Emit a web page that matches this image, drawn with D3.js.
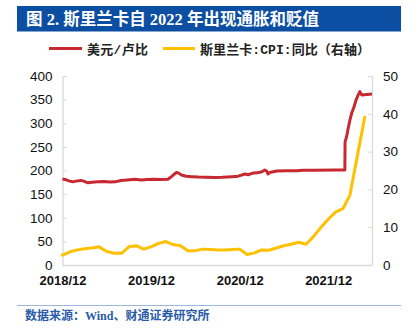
<!DOCTYPE html>
<html>
<head>
<meta charset="utf-8">
<script src="https://cdn.jsdelivr.net/npm/d3@7"></script>
<style>
  html, body { margin: 0; padding: 0; background: #fff; }
  svg { display: block; }
</style>
</head>
<body>
<svg id="chart" width="418" height="335"></svg>
<script>
// USD/LKR exchange rate (left axis)
const fxDates = ["2018-12-01","2018-12-12","2018-12-24","2019-01-05","2019-01-13","2019-01-25","2019-02-15","2019-03-01","2019-03-16","2019-04-01","2019-04-26","2019-05-20","2019-06-15","2019-07-06","2019-07-30","2019-08-25","2019-09-26","2019-10-21","2019-11-15","2019-12-10","2020-01-10","2020-02-09","2020-02-26","2020-03-10","2020-03-17","2020-03-25","2020-04-07","2020-04-25","2020-05-18","2020-06-15","2020-07-15","2020-08-21","2020-09-20","2020-10-30","2020-11-25","2020-12-23","2021-01-05","2021-01-21","2021-02-10","2021-03-03","2021-03-15","2021-03-22","2021-03-28","2021-04-05","2021-04-13","2021-05-04","2021-06-10","2021-07-25","2021-08-20","2021-10-01","2022-01-01","2022-02-08","2022-02-09","2022-02-15","2022-02-22","2022-03-01","2022-03-08","2022-03-18","2022-03-26","2022-04-04","2022-04-11","2022-04-18","2022-05-10","2022-05-31"];
const fxValues = [182,181,178.5,177,176,177.5,179,177,174,175,176,176.5,175.5,176,179,180,181.3,180,181,181.5,181,181.5,188,194,196,194,190,188,187,186,185.5,185,185.5,187,188,192.6,191,194,195,197.5,201,199,192.6,196,197,199,199.5,199.6,200.5,200.5,201,201,261,271,290,307,321,335,349,360,367,360,361,362];

// Sri Lanka CPI YoY, % (right axis)
const cpiMonths = ["2018-12","2019-01","2019-02","2019-03","2019-04","2019-05","2019-06","2019-07","2019-08","2019-09","2019-10","2019-11","2019-12","2020-01","2020-02","2020-03","2020-04","2020-05","2020-06","2020-07","2020-08","2020-09","2020-10","2020-11","2020-12","2021-01","2021-02","2021-03","2021-04","2021-05","2021-06","2021-07","2021-08","2021-09","2021-10","2021-11","2021-12","2022-01","2022-02","2022-03","2022-04","2022-05"];
const cpiValues = [2.6,3.5,4.0,4.3,4.5,4.8,3.6,3.1,3.1,4.8,5.1,4.2,4.8,5.7,6.2,5.4,5.1,3.8,3.8,4.2,4.1,4.0,4.0,4.1,4.2,2.8,3.2,4.0,3.9,4.5,5.1,5.5,6.0,5.5,7.5,9.9,12.1,14.0,15.0,18.5,29.0,39.1];

const xTicks = ["2018-12-01","2019-12-01","2020-12-01","2021-12-01"];
const xTickLabels = ["2018/12","2019/12","2020/12","2021/12"];
const leftTicks = [0,50,100,150,200,250,300,350,400];
const rightTicks = [0,10,20,30,40,50];

const titleText = "图 2. 斯里兰卡自 2022 年出现通胀和贬值";
const seriesNames = ["美元/卢比", "斯里兰卡:CPI:同比（右轴）"];
const sourceText = "数据来源：Wind、财通证券研究所";

const parseDay = d3.timeParse("%Y-%m-%d");
const parseMonth = d3.timeParse("%Y-%m");

const fx = fxDates.map((d, i) => ({ date: parseDay(d), value: fxValues[i] }));
const cpi = cpiMonths.map((d, i) => ({ date: parseMonth(d), value: cpiValues[i] }));

const svg = d3.select("#chart");
const plot = { left: 62.5, right: 372, top: 76, bottom: 265 };

const x = d3.scaleTime()
  .domain([parseDay("2018-12-01"), parseDay("2022-05-31")])
  .range([plot.left, plot.right]);
const yL = d3.scaleLinear().domain([0, 400]).range([plot.bottom, plot.top]);
const yR = d3.scaleLinear().domain([0, 50]).range([plot.bottom, plot.top]);

const red = "#c8282f";
const yellow = "#ffc000";
const axisGray = "#d9d9d9";

// Title bar
svg.append("rect")
  .attr("x", 17).attr("y", 6).attr("width", 384).attr("height", 25.5)
  .attr("fill", "#0b4ea2");
svg.append("text")
  .attr("x", 26).attr("y", 25)
  .attr("fill", "#fff")
  .attr("font-family", "'Liberation Serif', 'Noto Sans CJK SC', sans-serif")
  .attr("font-weight", "bold")
  .attr("font-size", 16.5)
  .text(titleText);

// Legend
const legend = svg.append("g")
  .attr("font-family", "'Liberation Mono', 'Noto Sans CJK SC', sans-serif")
  .attr("font-size", 13)
  .attr("font-weight", "bold")
  .attr("fill", "#222");
legend.append("line").attr("x1", 49).attr("x2", 82).attr("y1", 48.5).attr("y2", 48.5)
  .attr("stroke", red).attr("stroke-width", 3);
legend.append("text").attr("x", 87).attr("y", 53.5).text(seriesNames[0])
  .attr("textLength", 61).attr("lengthAdjust", "spacing");
legend.append("line").attr("x1", 163).attr("x2", 195).attr("y1", 48.5).attr("y2", 48.5)
  .attr("stroke", yellow).attr("stroke-width", 3);
legend.append("text").attr("x", 200).attr("y", 53.5).text(seriesNames[1])
  .attr("textLength", 170).attr("lengthAdjust", "spacing");

// Axes
const axisFont = "'Liberation Sans', Arial, sans-serif";

const gL = svg.append("g")
  .attr("transform", `translate(${plot.left},0)`)
  .call(d3.axisLeft(yL).tickValues(leftTicks).tickSizeInner(-4).tickSizeOuter(0).tickPadding(10));
const gR = svg.append("g")
  .attr("transform", `translate(${plot.right},0)`)
  .call(d3.axisRight(yR).tickValues(rightTicks).tickSizeInner(-4).tickSizeOuter(0).tickPadding(11));
const gB = svg.append("g")
  .attr("transform", `translate(0,${plot.bottom})`)
  .call(d3.axisBottom(x).tickValues(xTicks.map(parseDay))
    .tickFormat((d, i) => xTickLabels[i]).tickSize(0).tickPadding(11));

[gL, gR, gB].forEach(g => {
  g.select(".domain").attr("stroke", axisGray).attr("stroke-width", 1.3);
  g.selectAll(".tick line").attr("stroke", axisGray);
  g.selectAll("text").attr("font-family", axisFont).attr("font-size", 13.5).attr("fill", "#111");
});
gB.selectAll("text").attr("font-weight", "bold").attr("font-size", 13);

// Series lines
const fxLine = d3.line().x(d => x(d.date)).y(d => yL(d.value));
const cpiLine = d3.line().x(d => x(d.date)).y(d => yR(d.value));

svg.append("path").datum(cpi)
  .attr("d", cpiLine)
  .attr("fill", "none").attr("stroke", yellow).attr("stroke-width", 3)
  .attr("stroke-linejoin", "round").attr("stroke-linecap", "round");

svg.append("path").datum(fx)
  .attr("d", fxLine)
  .attr("fill", "none").attr("stroke", red).attr("stroke-width", 3)
  .attr("stroke-linejoin", "round");

// Source footer
svg.append("line")
  .attr("x1", 17).attr("x2", 401).attr("y1", 305.5).attr("y2", 305.5)
  .attr("stroke", "#9db8dc").attr("stroke-width", 1);
svg.append("text")
  .attr("x", 25).attr("y", 320)
  .attr("fill", "#2a5ba8")
  .attr("font-family", "'Liberation Serif', 'Noto Sans CJK SC', serif")
  .attr("font-weight", "bold")
  .attr("font-size", 12)
  .text(sourceText);
</script>
</body>
</html>
